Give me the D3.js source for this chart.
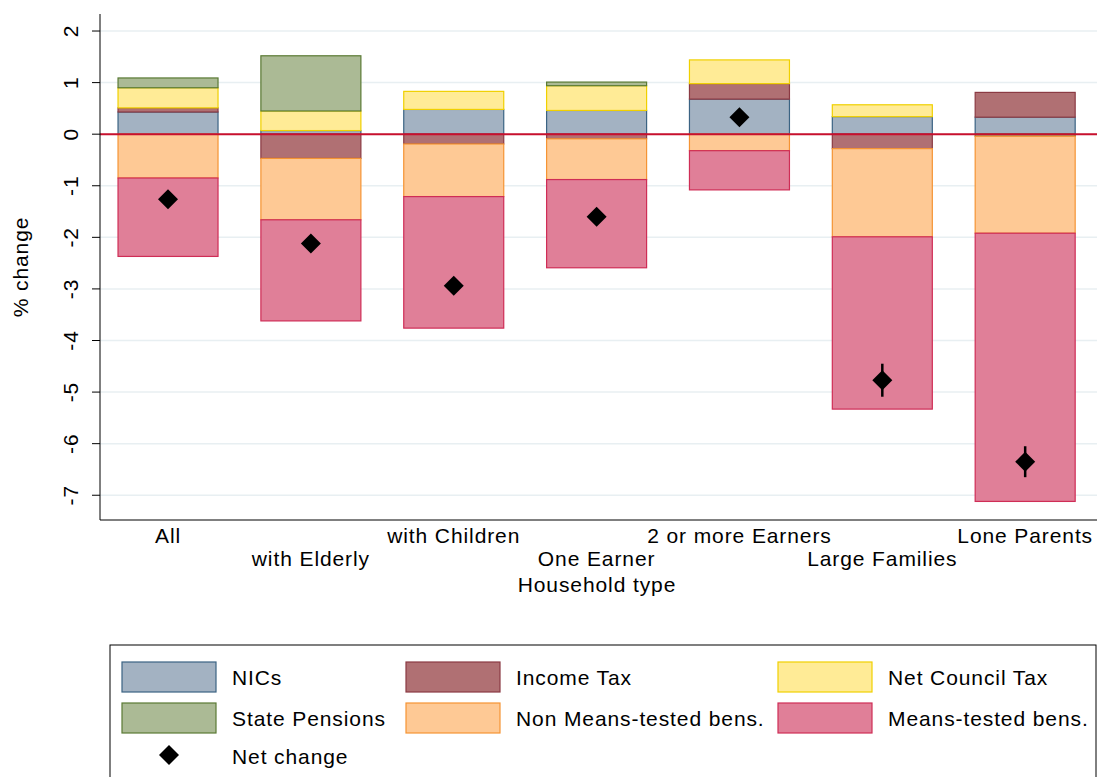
<!DOCTYPE html><html><head><meta charset="utf-8">
<script src="https://cdn.jsdelivr.net/npm/d3@7"></script>
<style>body{margin:0;background:#fff}text{font-family:"Liberation Sans",Arial,sans-serif;font-size:21px;letter-spacing:0.9px}</style></head><body>
<svg id="c" width="1097" height="777"></svg>
<script>
const categories=["All","with Elderly","with Children","One Earner","2 or more Earners","Large Families","Lone Parents"];
const nics=[0.43,0.07,0.48,0.46,0.68,0.34,0.33];
const incomeTax=[0.08,-0.47,-0.19,-0.09,0.30,-0.28,0.48];
const councilTax=[0.39,0.38,0.35,0.48,0.46,0.23,0];
const statePensions=[0.19,1.07,0,0.07,0,0,-0.04];
const nonMeans=[-0.85,-1.19,-1.02,-0.79,-0.32,-1.71,-1.88];
const meansTested=[-1.52,-1.96,-2.55,-1.71,-0.76,-3.34,-5.2];
const netChange=[-1.26,-2.12,-2.94,-1.60,0.33,-4.77,-6.35];
const netErr=[0.05,0.05,0.05,0.05,0.05,0.32,0.3];
const yTicks=[2,1,0,-1,-2,-3,-4,-5,-6,-7];
const series=[
 {name:"NICs",v:nics,f:"#a3b2c2",s:"#3b6383"},
 {name:"Income Tax",v:incomeTax,f:"#b07073",s:"#8b3a43"},
 {name:"Net Council Tax",v:councilTax,f:"#ffeb96",s:"#f0d000"},
 {name:"State Pensions",v:statePensions,f:"#abba95",s:"#5a7a34"},
 {name:"Non Means-tested bens.",v:nonMeans,f:"#fec995",s:"#f59434"},
 {name:"Means-tested bens.",v:meansTested,f:"#e07f98",s:"#cf2d56"}];
const svg=d3.select("#c");
const x=d3.scaleBand().domain(categories).range([96.6,1096.6]).paddingInner(0.3).paddingOuter(0.15);
const y=d3.scaleLinear().domain([-7.48,2.33]).range([520,14]);
const diamond="M0,-10L10,0L0,10L-10,0Z";
const g=svg.append("g");
g.selectAll(".gl").data(yTicks).enter().append("line").attr("x1",100).attr("x2",1097)
 .attr("y1",d=>y(d)).attr("y2",d=>y(d)).attr("stroke","#e8eff2").attr("stroke-width",1.5);
categories.forEach((c,i)=>{let pos=0,neg=0;
 series.forEach(s=>{const v=s.v[i];if(v===0)return;let y0,y1;
  if(v>0){y0=pos;y1=pos+v;pos=y1;}else{y0=neg;y1=neg+v;neg=y1;}
  g.append("rect").attr("x",x(c)).attr("width",x.bandwidth()).attr("y",y(Math.max(y0,y1)))
   .attr("height",Math.abs(y(y0)-y(y1))).attr("fill",s.f).attr("stroke",s.s).attr("stroke-width",1.2);});});
g.append("line").attr("x1",100).attr("x2",1097).attr("y1",y(0)).attr("y2",y(0)).attr("stroke","#c8102e").attr("stroke-width",2);
categories.forEach((c,i)=>{const cx=x(c)+x.bandwidth()/2;
 g.append("line").attr("x1",cx).attr("x2",cx).attr("y1",y(netChange[i]-netErr[i])).attr("y2",y(netChange[i]+netErr[i])).attr("stroke","#000").attr("stroke-width",2.5);
 g.append("path").attr("d",diamond).attr("transform",`translate(${cx},${y(netChange[i])})`);});
svg.append("line").attr("x1",100).attr("x2",100).attr("y1",14).attr("y2",520).attr("stroke","#000");
svg.append("line").attr("x1",100).attr("x2",1097).attr("y1",520).attr("y2",520).attr("stroke","#000");
yTicks.forEach(t=>{svg.append("line").attr("x1",92).attr("x2",100).attr("y1",y(t)).attr("y2",y(t)).attr("stroke","#000");
 svg.append("text").attr("transform",`translate(78,${y(t)}) rotate(-90)`).attr("text-anchor","middle").text(t);});
svg.append("text").attr("transform",`translate(28,267) rotate(-90)`).attr("text-anchor","middle").text("% change");
categories.forEach((c,i)=>{const cx=x(c)+x.bandwidth()/2;
 svg.append("text").attr("x",cx).attr("y",i%2?566:543).attr("text-anchor","middle").text(c);});
svg.append("text").attr("x",597).attr("y",592).attr("text-anchor","middle").text("Household type");
svg.append("rect").attr("x",110).attr("y",645).attr("width",986).attr("height",140).attr("fill","#fff").attr("stroke","#000");
const cols=[122,406,778];
series.forEach((s,i)=>{const lx=cols[i%3],ly=662+(i>=3?41:0);
 svg.append("rect").attr("x",lx).attr("y",ly).attr("width",94).attr("height",30).attr("fill",s.f).attr("stroke",s.s).attr("stroke-width",1.2);
 svg.append("text").attr("x",lx+110).attr("y",ly+23).text(s.name);});
svg.append("path").attr("d",diamond).attr("transform","translate(169,755)");
svg.append("text").attr("x",232).attr("y",764).text("Net change");
</script></body></html>
